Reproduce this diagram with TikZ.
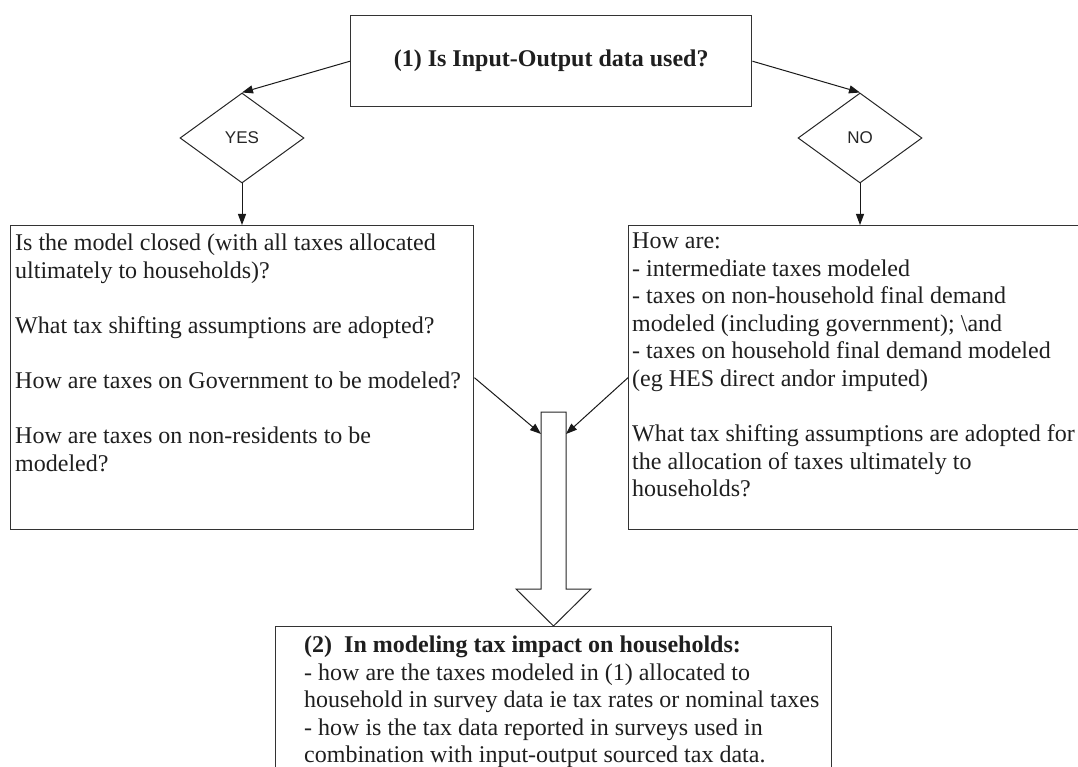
\documentclass[tikz,border=0pt]{standalone}
\usepackage{fontspec}
\setmainfont{Liberation Serif}
\newfontfamily\labelfont{Liberation Sans}
\usetikzlibrary{shapes.geometric,arrows.meta}
\begin{document}
\begin{tikzpicture}[x=1pt,y=-1pt,
  frame/.style={draw=black!80,line width=1.4pt,fill=white,inner sep=0pt,anchor=north west},
  body/.style={font=\fontsize{24}{27.6}\selectfont,align=left,inner sep=0pt,anchor=north west,text=black!88},
  choice/.style={diamond,draw=black!85,line width=1pt,inner sep=0pt,aspect=1.38,
    minimum width=124pt,minimum height=90pt,font=\labelfont\fontsize{17}{20}\selectfont,text=black!85},
  link/.style={draw=black!90,line width=1pt,-{Triangle[length=11pt,width=8pt]}},
  blockarrow/.style={draw=black!85,line width=1pt,fill=white},
]
\useasboundingbox (0,0) rectangle (1078,767);
\clip (0,0) rectangle (1078,767);

% question (1)
\node[frame,minimum width=401pt,minimum height=91pt,
  font=\bfseries\fontsize{24}{27.6}\selectfont,text=black!88] (q1) at (350,15)
  {(1) Is Input-Output data used?};

% the two answers
\node[choice] (yes) at (242,138) {YES};
\node[choice] (no) at (860,138) {NO};

% answer boxes
\node[frame,minimum width=463pt,minimum height=304pt] (lbox) at (10,225) {};
\node[body] (ltext) at (15,231) {\strut Is the model closed (with all taxes allocated\\
ultimately to households)?\\
\mbox{}\\
What tax shifting assumptions are adopted?\\
\mbox{}\\
How are taxes on Government to be modeled?\\
\mbox{}\\
How are taxes on non-residents to be\\
modeled?};

\node[frame,minimum width=480pt,minimum height=304pt] (rbox) at (628,225) {};
\node[body] (rtext) at (632,229) {\strut How are:\\
- intermediate taxes modeled\\
- taxes on non-household final demand\\
modeled (including government); \textbackslash and\\
- taxes on household final demand modeled\\
(eg HES direct andor imputed)\\
\mbox{}\\
What tax shifting assumptions are adopted for\\
the allocation of taxes ultimately to\\
households?};

% block arrow leading to question (2)
\draw[blockarrow] (541,412) -- (566,412) -- (566,589) -- (591,589)
  -- (553.5,626) -- (516,589) -- (541,589) -- cycle;
\coordinate (shaftL) at (541,434);
\coordinate (shaftR) at (566,434);

% question (2)
\node[frame,minimum width=556pt,minimum height=200pt] (q2) at (275,626) {};
\node[body] (q2text) at (304,633) {\strut\textbf{(2)\ \ In modeling tax impact on households:}\\
- how are the taxes modeled in (1) allocated to\\
household in survey data ie tax rates or nominal taxes\\
- how is the tax data reported in surveys used in\\
combination with input-output sourced tax data.};

% connectors
\draw[link] (q1.west) -- (yes.north);
\draw[link] (q1.east) -- (no.north);
\draw[link] (yes.south) -- (yes.south |- lbox.north);
\draw[link] (no.south) -- (no.south |- rbox.north);
\draw[link] (lbox.east) -- (shaftL);
\draw[link] (rbox.west) -- (shaftR);
\end{tikzpicture}
\end{document}
